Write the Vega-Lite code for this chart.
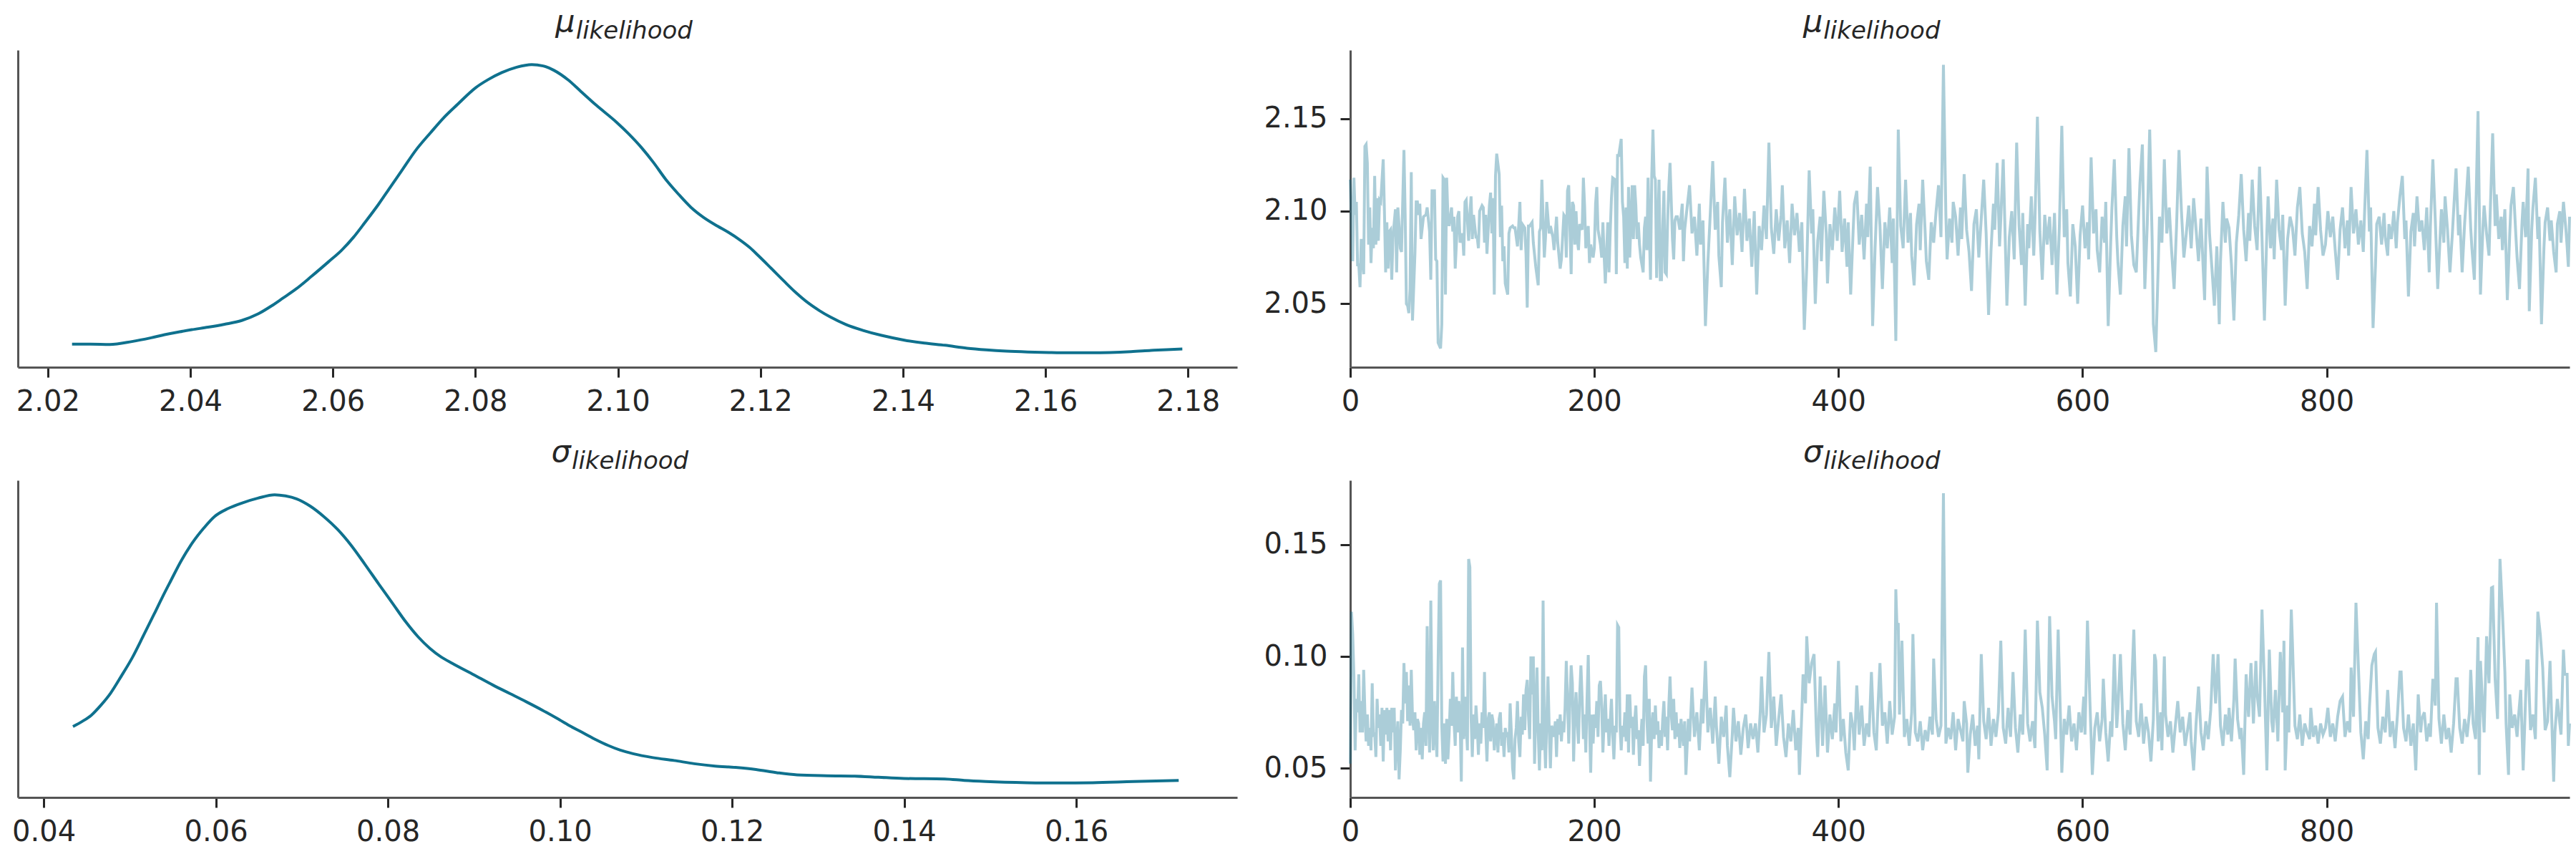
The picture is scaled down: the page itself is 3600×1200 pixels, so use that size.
{
"$schema": "https://vega.github.io/schema/vega-lite/v6.json",
"background": "white",
"padding": {"left": 16, "top": 10, "right": 5, "bottom": 5},
"columns": 2,
"spacing": 158,
"bounds": "flush",
"config": {
  "view": {"stroke": null},
  "axis": {"domainColor": "#555555", "domainWidth": 3, "tickColor": "#262626", "tickWidth": 3, "tickSize": 14, "labelFont": "DejaVu Sans", "labelFontSize": 40, "labelColor": "#262626", "grid": false, "title": null, "labelFlush": false, "labelOverlap": false},
  "axisX": {"labelPadding": 14},
  "axisY": {"labelPadding": 18},
  "title": {"anchor": "start", "dx": 754, "font": "DejaVu Sans", "fontSize": 43, "fontStyle": "italic", "fontWeight": "normal", "color": "#262626", "subtitleFont": "DejaVu Sans", "subtitleFontSize": 34, "subtitleFontStyle": "italic", "subtitleColor": "#262626", "subtitlePadding": -26, "offset": 9}
},
"datasets": {
"mu_kde": [{"v":2.0234,"d":0.92},{"v":2.026,"d":0.92},{"v":2.0287,"d":0.9},{"v":2.0318,"d":1.11},{"v":2.0345,"d":1.38},{"v":2.0364,"d":1.6},{"v":2.0385,"d":1.81},{"v":2.0402,"d":1.96},{"v":2.0425,"d":2.14},{"v":2.0448,"d":2.35},{"v":2.0472,"d":2.62},{"v":2.0495,"d":3.09},{"v":2.0514,"d":3.67},{"v":2.053,"d":4.23},{"v":2.0548,"d":4.87},{"v":2.057,"d":5.79},{"v":2.0594,"d":6.84},{"v":2.0612,"d":7.65},{"v":2.0629,"d":8.6},{"v":2.0645,"d":9.66},{"v":2.0664,"d":10.96},{"v":2.068,"d":12.15},{"v":2.0698,"d":13.48},{"v":2.0716,"d":14.82},{"v":2.0737,"d":16.1},{"v":2.0755,"d":17.15},{"v":2.0775,"d":18.14},{"v":2.08,"d":19.32},{"v":2.0818,"d":19.92},{"v":2.0837,"d":20.42},{"v":2.0858,"d":20.81},{"v":2.0879,"d":21.0},{"v":2.0895,"d":20.9},{"v":2.091,"d":20.59},{"v":2.093,"d":19.9},{"v":2.0948,"d":19.07},{"v":2.097,"d":18.06},{"v":2.0998,"d":16.86},{"v":2.1015,"d":16.03},{"v":2.1033,"d":15.04},{"v":2.105,"d":13.96},{"v":2.1067,"d":12.76},{"v":2.1085,"d":11.69},{"v":2.1102,"d":10.77},{"v":2.112,"d":10.03},{"v":2.114,"d":9.39},{"v":2.1155,"d":8.95},{"v":2.1171,"d":8.41},{"v":2.1185,"d":7.86},{"v":2.1198,"d":7.23},{"v":2.1215,"d":6.37},{"v":2.1233,"d":5.45},{"v":2.125,"d":4.61},{"v":2.1267,"d":3.88},{"v":2.1283,"d":3.32},{"v":2.1298,"d":2.87},{"v":2.132,"d":2.33},{"v":2.1344,"d":1.91},{"v":2.137,"d":1.55},{"v":2.1402,"d":1.21},{"v":2.143,"d":1.0},{"v":2.1459,"d":0.84},{"v":2.149,"d":0.63},{"v":2.1517,"d":0.51},{"v":2.1545,"d":0.42},{"v":2.1575,"d":0.36},{"v":2.1605,"d":0.32},{"v":2.1632,"d":0.3},{"v":2.166,"d":0.3},{"v":2.169,"d":0.32},{"v":2.172,"d":0.38},{"v":2.1748,"d":0.47},{"v":2.177,"d":0.53},{"v":2.1792,"d":0.57}],
"sigma_kde": [{"v":0.0434,"d":5.79},{"v":0.0445,"d":6.28},{"v":0.04553,"d":6.85},{"v":0.04665,"d":7.79},{"v":0.04776,"d":8.9},{"v":0.049,"d":10.49},{"v":0.0503,"d":12.25},{"v":0.0516,"d":14.32},{"v":0.05285,"d":16.35},{"v":0.0538,"d":17.92},{"v":0.05476,"d":19.43},{"v":0.056,"d":21.34},{"v":0.0573,"d":23.02},{"v":0.0586,"d":24.37},{"v":0.05984,"d":25.45},{"v":0.0614,"d":26.2},{"v":0.06302,"d":26.72},{"v":0.0649,"d":27.18},{"v":0.06684,"d":27.5},{"v":0.0681,"d":27.39},{"v":0.06938,"d":27.12},{"v":0.071,"d":26.42},{"v":0.07256,"d":25.45},{"v":0.0742,"d":24.21},{"v":0.07574,"d":22.75},{"v":0.0773,"d":21.02},{"v":0.07892,"d":19.16},{"v":0.0805,"d":17.38},{"v":0.0821,"d":15.57},{"v":0.0835,"d":14.2},{"v":0.0849,"d":13.1},{"v":0.0862,"d":12.3},{"v":0.08749,"d":11.71},{"v":0.09,"d":10.63},{"v":0.09226,"d":9.65},{"v":0.0942,"d":8.87},{"v":0.09608,"d":8.11},{"v":0.098,"d":7.3},{"v":0.0999,"d":6.44},{"v":0.1013,"d":5.79},{"v":0.10276,"d":5.17},{"v":0.1042,"d":4.55},{"v":0.10562,"d":4.01},{"v":0.107,"d":3.58},{"v":0.10848,"d":3.25},{"v":0.1108,"d":2.88},{"v":0.11325,"d":2.61},{"v":0.1156,"d":2.31},{"v":0.11802,"d":2.09},{"v":0.1204,"d":1.96},{"v":0.12278,"d":1.77},{"v":0.1252,"d":1.47},{"v":0.12755,"d":1.26},{"v":0.131,"d":1.18},{"v":0.13423,"d":1.15},{"v":0.137,"d":1.04},{"v":0.13995,"d":0.93},{"v":0.14472,"d":0.88},{"v":0.147,"d":0.74},{"v":0.14949,"d":0.64},{"v":0.15426,"d":0.53},{"v":0.158,"d":0.5},{"v":0.16189,"d":0.53},{"v":0.16666,"d":0.64},{"v":0.1719,"d":0.74}],
"mu_trace": [{"d":0,"v":2.117},{"d":2,"v":2.073},{"d":3,"v":2.118},{"d":4,"v":2.098},{"d":5,"v":2.105},{"d":6,"v":2.071},{"d":7,"v":2.071},{"d":8,"v":2.059},{"d":9,"v":2.085},{"d":11,"v":2.066},{"d":12,"v":2.135},{"d":13,"v":2.136},{"d":14,"v":2.126},{"d":15,"v":2.082},{"d":16,"v":2.102},{"d":17,"v":2.072},{"d":18,"v":2.091},{"d":19,"v":2.08},{"d":20,"v":2.119},{"d":21,"v":2.082},{"d":22,"v":2.107},{"d":23,"v":2.084},{"d":24,"v":2.106},{"d":25,"v":2.105},{"d":27,"v":2.128},{"d":28,"v":2.1},{"d":29,"v":2.067},{"d":30,"v":2.094},{"d":31,"v":2.069},{"d":32,"v":2.089},{"d":33,"v":2.09},{"d":34,"v":2.063},{"d":35,"v":2.086},{"d":37,"v":2.101},{"d":38,"v":2.067},{"d":39,"v":2.102},{"d":40,"v":2.092},{"d":41,"v":2.08},{"d":42,"v":2.078},{"d":44,"v":2.133},{"d":45,"v":2.098},{"d":46,"v":2.05},{"d":47,"v":2.049},{"d":48,"v":2.045},{"d":49,"v":2.058},{"d":50,"v":2.121},{"d":51,"v":2.041},{"d":53,"v":2.077},{"d":54,"v":2.105},{"d":55,"v":2.105},{"d":56,"v":2.098},{"d":57,"v":2.104},{"d":58,"v":2.085},{"d":60,"v":2.097},{"d":62,"v":2.098},{"d":63,"v":2.102},{"d":65,"v":2.089},{"d":66,"v":2.063},{"d":67,"v":2.111},{"d":69,"v":2.111},{"d":70,"v":2.074},{"d":71,"v":2.073},{"d":72,"v":2.029},{"d":74,"v":2.026},{"d":75,"v":2.039},{"d":76,"v":2.118},{"d":77,"v":2.117},{"d":78,"v":2.055},{"d":79,"v":2.118},{"d":80,"v":2.097},{"d":81,"v":2.092},{"d":83,"v":2.102},{"d":84,"v":2.089},{"d":85,"v":2.097},{"d":86,"v":2.069},{"d":88,"v":2.097},{"d":89,"v":2.1},{"d":90,"v":2.083},{"d":92,"v":2.088},{"d":93,"v":2.076},{"d":94,"v":2.105},{"d":95,"v":2.106},{"d":97,"v":2.084},{"d":98,"v":2.098},{"d":99,"v":2.108},{"d":100,"v":2.085},{"d":101,"v":2.098},{"d":103,"v":2.086},{"d":104,"v":2.086},{"d":105,"v":2.08},{"d":106,"v":2.1},{"d":108,"v":2.103},{"d":109,"v":2.102},{"d":110,"v":2.083},{"d":111,"v":2.098},{"d":112,"v":2.077},{"d":114,"v":2.103},{"d":115,"v":2.11},{"d":116,"v":2.088},{"d":117,"v":2.107},{"d":118,"v":2.055},{"d":119,"v":2.119},{"d":120,"v":2.131},{"d":122,"v":2.12},{"d":123,"v":2.086},{"d":124,"v":2.103},{"d":125,"v":2.073},{"d":126,"v":2.081},{"d":127,"v":2.061},{"d":129,"v":2.055},{"d":130,"v":2.088},{"d":131,"v":2.091},{"d":133,"v":2.092},{"d":134,"v":2.091},{"d":135,"v":2.091},{"d":137,"v":2.081},{"d":138,"v":2.092},{"d":139,"v":2.105},{"d":140,"v":2.079},{"d":141,"v":2.093},{"d":143,"v":2.091},{"d":144,"v":2.077},{"d":145,"v":2.048},{"d":146,"v":2.092},{"d":147,"v":2.092},{"d":149,"v":2.094},{"d":150,"v":2.083},{"d":152,"v":2.07},{"d":154,"v":2.06},{"d":155,"v":2.089},{"d":156,"v":2.091},{"d":157,"v":2.117},{"d":159,"v":2.075},{"d":160,"v":2.086},{"d":161,"v":2.105},{"d":163,"v":2.088},{"d":164,"v":2.092},{"d":166,"v":2.086},{"d":167,"v":2.079},{"d":169,"v":2.097},{"d":170,"v":2.083},{"d":172,"v":2.069},{"d":173,"v":2.074},{"d":175,"v":2.098},{"d":176,"v":2.097},{"d":177,"v":2.075},{"d":178,"v":2.111},{"d":179,"v":2.114},{"d":181,"v":2.066},{"d":182,"v":2.105},{"d":183,"v":2.103},{"d":184,"v":2.082},{"d":185,"v":2.1},{"d":186,"v":2.085},{"d":187,"v":2.079},{"d":188,"v":2.093},{"d":190,"v":2.09},{"d":191,"v":2.118},{"d":192,"v":2.103},{"d":193,"v":2.08},{"d":195,"v":2.092},{"d":196,"v":2.072},{"d":197,"v":2.082},{"d":199,"v":2.075},{"d":200,"v":2.08},{"d":201,"v":2.104},{"d":202,"v":2.113},{"d":203,"v":2.09},{"d":205,"v":2.082},{"d":206,"v":2.075},{"d":207,"v":2.094},{"d":208,"v":2.076},{"d":209,"v":2.061},{"d":211,"v":2.094},{"d":212,"v":2.067},{"d":213,"v":2.089},{"d":214,"v":2.107},{"d":215,"v":2.118},{"d":217,"v":2.117},{"d":218,"v":2.066},{"d":219,"v":2.13},{"d":220,"v":2.13},{"d":222,"v":2.139},{"d":223,"v":2.105},{"d":224,"v":2.097},{"d":225,"v":2.072},{"d":226,"v":2.102},{"d":227,"v":2.069},{"d":228,"v":2.113},{"d":229,"v":2.075},{"d":231,"v":2.114},{"d":232,"v":2.085},{"d":233,"v":2.114},{"d":234,"v":2.103},{"d":235,"v":2.085},{"d":236,"v":2.094},{"d":237,"v":2.082},{"d":238,"v":2.075},{"d":240,"v":2.067},{"d":241,"v":2.091},{"d":242,"v":2.097},{"d":243,"v":2.079},{"d":244,"v":2.118},{"d":246,"v":2.063},{"d":247,"v":2.118},{"d":248,"v":2.144},{"d":249,"v":2.119},{"d":250,"v":2.117},{"d":251,"v":2.064},{"d":253,"v":2.117},{"d":254,"v":2.063},{"d":255,"v":2.063},{"d":256,"v":2.092},{"d":257,"v":2.111},{"d":258,"v":2.067},{"d":259,"v":2.066},{"d":260,"v":2.094},{"d":261,"v":2.113},{"d":262,"v":2.126},{"d":264,"v":2.085},{"d":265,"v":2.074},{"d":266,"v":2.095},{"d":267,"v":2.097},{"d":268,"v":2.097},{"d":269,"v":2.094},{"d":270,"v":2.09},{"d":272,"v":2.104},{"d":273,"v":2.073},{"d":274,"v":2.09},{"d":276,"v":2.102},{"d":278,"v":2.114},{"d":280,"v":2.088},{"d":282,"v":2.097},{"d":284,"v":2.076},{"d":286,"v":2.104},{"d":287,"v":2.082},{"d":289,"v":2.095},{"d":291,"v":2.038},{"d":293,"v":2.072},{"d":295,"v":2.099},{"d":297,"v":2.127},{"d":299,"v":2.09},{"d":301,"v":2.105},{"d":302,"v":2.076},{"d":304,"v":2.059},{"d":305,"v":2.094},{"d":307,"v":2.118},{"d":309,"v":2.083},{"d":311,"v":2.101},{"d":313,"v":2.071},{"d":315,"v":2.108},{"d":317,"v":2.087},{"d":319,"v":2.099},{"d":321,"v":2.078},{"d":323,"v":2.112},{"d":325,"v":2.084},{"d":327,"v":2.096},{"d":329,"v":2.07},{"d":331,"v":2.1},{"d":333,"v":2.055},{"d":335,"v":2.092},{"d":337,"v":2.079},{"d":339,"v":2.103},{"d":341,"v":2.085},{"d":343,"v":2.137},{"d":345,"v":2.091},{"d":347,"v":2.077},{"d":349,"v":2.101},{"d":351,"v":2.084},{"d":353,"v":2.098},{"d":354,"v":2.114},{"d":356,"v":2.08},{"d":358,"v":2.095},{"d":360,"v":2.072},{"d":362,"v":2.104},{"d":364,"v":2.087},{"d":366,"v":2.099},{"d":368,"v":2.078},{"d":370,"v":2.094},{"d":372,"v":2.036},{"d":374,"v":2.07},{"d":376,"v":2.122},{"d":378,"v":2.088},{"d":379,"v":2.101},{"d":381,"v":2.05},{"d":383,"v":2.084},{"d":385,"v":2.097},{"d":386,"v":2.073},{"d":388,"v":2.111},{"d":390,"v":2.088},{"d":391,"v":2.061},{"d":393,"v":2.093},{"d":395,"v":2.079},{"d":397,"v":2.102},{"d":399,"v":2.084},{"d":401,"v":2.111},{"d":403,"v":2.078},{"d":405,"v":2.096},{"d":407,"v":2.07},{"d":408,"v":2.094},{"d":410,"v":2.055},{"d":412,"v":2.089},{"d":413,"v":2.104},{"d":415,"v":2.111},{"d":417,"v":2.082},{"d":419,"v":2.098},{"d":421,"v":2.074},{"d":423,"v":2.104},{"d":424,"v":2.086},{"d":426,"v":2.124},{"d":428,"v":2.038},{"d":430,"v":2.08},{"d":432,"v":2.113},{"d":434,"v":2.092},{"d":436,"v":2.058},{"d":438,"v":2.094},{"d":440,"v":2.08},{"d":442,"v":2.102},{"d":444,"v":2.072},{"d":445,"v":2.096},{"d":447,"v":2.03},{"d":449,"v":2.144},{"d":451,"v":2.092},{"d":453,"v":2.08},{"d":455,"v":2.117},{"d":457,"v":2.083},{"d":459,"v":2.099},{"d":460,"v":2.076},{"d":462,"v":2.06},{"d":464,"v":2.093},{"d":466,"v":2.104},{"d":467,"v":2.079},{"d":469,"v":2.117},{"d":471,"v":2.089},{"d":472,"v":2.073},{"d":474,"v":2.063},{"d":476,"v":2.094},{"d":478,"v":2.083},{"d":480,"v":2.1},{"d":482,"v":2.114},{"d":484,"v":2.086},{"d":486,"v":2.179},{"d":488,"v":2.098},{"d":489,"v":2.074},{"d":491,"v":2.096},{"d":493,"v":2.083},{"d":494,"v":2.105},{"d":496,"v":2.097},{"d":498,"v":2.076},{"d":500,"v":2.102},{"d":501,"v":2.085},{"d":503,"v":2.12},{"d":505,"v":2.09},{"d":507,"v":2.078},{"d":509,"v":2.057},{"d":511,"v":2.093},{"d":513,"v":2.101},{"d":515,"v":2.075},{"d":517,"v":2.096},{"d":519,"v":2.117},{"d":521,"v":2.088},{"d":523,"v":2.044},{"d":525,"v":2.079},{"d":527,"v":2.104},{"d":528,"v":2.09},{"d":530,"v":2.126},{"d":532,"v":2.081},{"d":533,"v":2.096},{"d":535,"v":2.128},{"d":538,"v":2.049},{"d":540,"v":2.086},{"d":542,"v":2.1},{"d":544,"v":2.074},{"d":546,"v":2.137},{"d":548,"v":2.092},{"d":550,"v":2.071},{"d":551,"v":2.099},{"d":553,"v":2.049},{"d":555,"v":2.093},{"d":556,"v":2.08},{"d":558,"v":2.108},{"d":560,"v":2.076},{"d":561,"v":2.095},{"d":563,"v":2.151},{"d":565,"v":2.089},{"d":567,"v":2.063},{"d":569,"v":2.098},{"d":571,"v":2.082},{"d":573,"v":2.097},{"d":575,"v":2.071},{"d":577,"v":2.099},{"d":579,"v":2.055},{"d":581,"v":2.092},{"d":583,"v":2.146},{"d":585,"v":2.086},{"d":587,"v":2.101},{"d":588,"v":2.072},{"d":590,"v":2.054},{"d":592,"v":2.093},{"d":594,"v":2.081},{"d":596,"v":2.05},{"d":598,"v":2.087},{"d":600,"v":2.103},{"d":602,"v":2.08},{"d":604,"v":2.094},{"d":605,"v":2.074},{"d":607,"v":2.129},{"d":609,"v":2.088},{"d":611,"v":2.101},{"d":612,"v":2.079},{"d":614,"v":2.067},{"d":616,"v":2.097},{"d":618,"v":2.083},{"d":619,"v":2.105},{"d":621,"v":2.038},{"d":623,"v":2.082},{"d":624,"v":2.101},{"d":626,"v":2.128},{"d":628,"v":2.086},{"d":629,"v":2.072},{"d":631,"v":2.055},{"d":633,"v":2.092},{"d":635,"v":2.108},{"d":636,"v":2.081},{"d":638,"v":2.134},{"d":640,"v":2.087},{"d":642,"v":2.071},{"d":644,"v":2.067},{"d":646,"v":2.099},{"d":647,"v":2.115},{"d":649,"v":2.136},{"d":651,"v":2.058},{"d":653,"v":2.093},{"d":655,"v":2.144},{"d":657,"v":2.085},{"d":658,"v":2.039},{"d":660,"v":2.024},{"d":662,"v":2.071},{"d":663,"v":2.097},{"d":665,"v":2.083},{"d":667,"v":2.128},{"d":669,"v":2.088},{"d":671,"v":2.102},{"d":673,"v":2.078},{"d":675,"v":2.058},{"d":677,"v":2.092},{"d":679,"v":2.133},{"d":681,"v":2.1},{"d":683,"v":2.075},{"d":685,"v":2.088},{"d":687,"v":2.103},{"d":689,"v":2.08},{"d":691,"v":2.107},{"d":693,"v":2.09},{"d":695,"v":2.073},{"d":697,"v":2.096},{"d":698,"v":2.081},{"d":700,"v":2.052},{"d":702,"v":2.124},{"d":704,"v":2.088},{"d":706,"v":2.069},{"d":708,"v":2.049},{"d":710,"v":2.081},{"d":712,"v":2.039},{"d":713,"v":2.073},{"d":715,"v":2.105},{"d":717,"v":2.083},{"d":718,"v":2.096},{"d":720,"v":2.091},{"d":722,"v":2.071},{"d":724,"v":2.041},{"d":726,"v":2.083},{"d":728,"v":2.098},{"d":730,"v":2.12},{"d":732,"v":2.09},{"d":734,"v":2.073},{"d":736,"v":2.099},{"d":737,"v":2.084},{"d":739,"v":2.117},{"d":741,"v":2.092},{"d":743,"v":2.079},{"d":745,"v":2.124},{"d":747,"v":2.086},{"d":749,"v":2.041},{"d":751,"v":2.089},{"d":752,"v":2.108},{"d":754,"v":2.08},{"d":756,"v":2.096},{"d":757,"v":2.074},{"d":759,"v":2.117},{"d":761,"v":2.09},{"d":763,"v":2.079},{"d":764,"v":2.098},{"d":766,"v":2.049},{"d":768,"v":2.085},{"d":770,"v":2.097},{"d":772,"v":2.091},{"d":774,"v":2.076},{"d":776,"v":2.102},{"d":778,"v":2.113},{"d":780,"v":2.088},{"d":782,"v":2.078},{"d":784,"v":2.058},{"d":786,"v":2.092},{"d":788,"v":2.081},{"d":790,"v":2.104},{"d":791,"v":2.087},{"d":793,"v":2.113},{"d":795,"v":2.09},{"d":797,"v":2.076},{"d":799,"v":2.082},{"d":801,"v":2.1},{"d":803,"v":2.086},{"d":805,"v":2.097},{"d":807,"v":2.079},{"d":809,"v":2.063},{"d":811,"v":2.09},{"d":813,"v":2.102},{"d":815,"v":2.08},{"d":817,"v":2.095},{"d":818,"v":2.076},{"d":820,"v":2.113},{"d":822,"v":2.088},{"d":824,"v":2.101},{"d":826,"v":2.082},{"d":828,"v":2.095},{"d":830,"v":2.078},{"d":831,"v":2.098},{"d":833,"v":2.133},{"d":835,"v":2.089},{"d":836,"v":2.102},{"d":838,"v":2.037},{"d":840,"v":2.071},{"d":841,"v":2.093},{"d":843,"v":2.097},{"d":845,"v":2.082},{"d":847,"v":2.099},{"d":848,"v":2.086},{"d":850,"v":2.076},{"d":851,"v":2.093},{"d":853,"v":2.085},{"d":855,"v":2.1},{"d":857,"v":2.08},{"d":858,"v":2.094},{"d":860,"v":2.108},{"d":862,"v":2.119},{"d":864,"v":2.085},{"d":865,"v":2.095},{"d":867,"v":2.054},{"d":869,"v":2.089},{"d":871,"v":2.099},{"d":872,"v":2.081},{"d":874,"v":2.108},{"d":876,"v":2.089},{"d":878,"v":2.095},{"d":880,"v":2.079},{"d":882,"v":2.102},{"d":884,"v":2.067},{"d":885,"v":2.092},{"d":887,"v":2.128},{"d":889,"v":2.095},{"d":891,"v":2.058},{"d":893,"v":2.087},{"d":894,"v":2.101},{"d":896,"v":2.083},{"d":897,"v":2.108},{"d":899,"v":2.09},{"d":901,"v":2.067},{"d":903,"v":2.088},{"d":904,"v":2.1},{"d":906,"v":2.123},{"d":908,"v":2.087},{"d":909,"v":2.098},{"d":911,"v":2.067},{"d":913,"v":2.093},{"d":914,"v":2.103},{"d":916,"v":2.124},{"d":918,"v":2.091},{"d":919,"v":2.08},{"d":921,"v":2.063},{"d":922,"v":2.093},{"d":924,"v":2.154},{"d":926,"v":2.055},{"d":928,"v":2.091},{"d":929,"v":2.103},{"d":931,"v":2.088},{"d":933,"v":2.076},{"d":934,"v":2.099},{"d":936,"v":2.142},{"d":938,"v":2.092},{"d":939,"v":2.109},{"d":941,"v":2.085},{"d":943,"v":2.097},{"d":944,"v":2.079},{"d":946,"v":2.101},{"d":948,"v":2.052},{"d":950,"v":2.088},{"d":951,"v":2.103},{"d":953,"v":2.113},{"d":955,"v":2.087},{"d":956,"v":2.075},{"d":958,"v":2.058},{"d":960,"v":2.093},{"d":961,"v":2.105},{"d":963,"v":2.086},{"d":965,"v":2.123},{"d":966,"v":2.046},{"d":968,"v":2.09},{"d":969,"v":2.102},{"d":971,"v":2.118},{"d":973,"v":2.085},{"d":974,"v":2.097},{"d":976,"v":2.039},{"d":978,"v":2.08},{"d":979,"v":2.094},{"d":981,"v":2.102},{"d":983,"v":2.084},{"d":984,"v":2.095},{"d":986,"v":2.078},{"d":988,"v":2.067},{"d":989,"v":2.093},{"d":991,"v":2.1},{"d":992,"v":2.083},{"d":994,"v":2.105},{"d":996,"v":2.09},{"d":997,"v":2.081},{"d":998,"v":2.07},{"d":999,"v":2.097}],
"sigma_trace": [{"d":0,"v":0.052},{"d":1,"v":0.12},{"d":2,"v":0.11},{"d":3,"v":0.091},{"d":4,"v":0.058},{"d":5,"v":0.081},{"d":6,"v":0.075},{"d":7,"v":0.092},{"d":8,"v":0.066},{"d":9,"v":0.08},{"d":10,"v":0.066},{"d":11,"v":0.094},{"d":12,"v":0.075},{"d":13,"v":0.062},{"d":14,"v":0.074},{"d":15,"v":0.06},{"d":16,"v":0.068},{"d":17,"v":0.058},{"d":18,"v":0.088},{"d":19,"v":0.064},{"d":20,"v":0.066},{"d":21,"v":0.055},{"d":22,"v":0.081},{"d":23,"v":0.068},{"d":24,"v":0.074},{"d":25,"v":0.06},{"d":26,"v":0.077},{"d":27,"v":0.053},{"d":28,"v":0.076},{"d":29,"v":0.065},{"d":30,"v":0.077},{"d":31,"v":0.062},{"d":32,"v":0.076},{"d":33,"v":0.058},{"d":34,"v":0.077},{"d":35,"v":0.066},{"d":36,"v":0.077},{"d":37,"v":0.049},{"d":38,"v":0.062},{"d":39,"v":0.071},{"d":40,"v":0.045},{"d":41,"v":0.058},{"d":42,"v":0.076},{"d":43,"v":0.07},{"d":44,"v":0.097},{"d":45,"v":0.079},{"d":46,"v":0.093},{"d":47,"v":0.071},{"d":48,"v":0.087},{"d":49,"v":0.069},{"d":50,"v":0.094},{"d":51,"v":0.073},{"d":52,"v":0.067},{"d":53,"v":0.075},{"d":54,"v":0.058},{"d":55,"v":0.072},{"d":56,"v":0.07},{"d":57,"v":0.056},{"d":58,"v":0.068},{"d":59,"v":0.054},{"d":60,"v":0.07},{"d":61,"v":0.075},{"d":62,"v":0.06},{"d":63,"v":0.1135},{"d":64,"v":0.074},{"d":65,"v":0.057},{"d":66,"v":0.125},{"d":67,"v":0.072},{"d":68,"v":0.058},{"d":69,"v":0.08},{"d":70,"v":0.066},{"d":71,"v":0.055},{"d":72,"v":0.098},{"d":73,"v":0.1325},{"d":74,"v":0.134},{"d":75,"v":0.069},{"d":76,"v":0.053},{"d":77,"v":0.07},{"d":78,"v":0.052},{"d":79,"v":0.072},{"d":80,"v":0.054},{"d":81,"v":0.065},{"d":82,"v":0.081},{"d":83,"v":0.069},{"d":84,"v":0.093},{"d":85,"v":0.071},{"d":86,"v":0.06},{"d":87,"v":0.082},{"d":88,"v":0.066},{"d":89,"v":0.08},{"d":90,"v":0.072},{"d":91,"v":0.044},{"d":92,"v":0.104},{"d":93,"v":0.063},{"d":94,"v":0.082},{"d":95,"v":0.07},{"d":96,"v":0.058},{"d":97,"v":0.1436},{"d":98,"v":0.14},{"d":99,"v":0.073},{"d":100,"v":0.055},{"d":101,"v":0.074},{"d":102,"v":0.063},{"d":103,"v":0.078},{"d":104,"v":0.069},{"d":105,"v":0.056},{"d":106,"v":0.07},{"d":107,"v":0.061},{"d":108,"v":0.075},{"d":109,"v":0.068},{"d":110,"v":0.093},{"d":111,"v":0.067},{"d":112,"v":0.053},{"d":113,"v":0.072},{"d":114,"v":0.075},{"d":115,"v":0.062},{"d":116,"v":0.074},{"d":117,"v":0.071},{"d":118,"v":0.058},{"d":119,"v":0.065},{"d":120,"v":0.07},{"d":121,"v":0.057},{"d":122,"v":0.072},{"d":123,"v":0.075},{"d":124,"v":0.06},{"d":125,"v":0.066},{"d":126,"v":0.055},{"d":127,"v":0.068},{"d":128,"v":0.064},{"d":129,"v":0.066},{"d":130,"v":0.057},{"d":131,"v":0.079},{"d":132,"v":0.066},{"d":133,"v":0.05},{"d":134,"v":0.045},{"d":135,"v":0.063},{"d":136,"v":0.068},{"d":137,"v":0.08},{"d":138,"v":0.062},{"d":139,"v":0.055},{"d":140,"v":0.073},{"d":141,"v":0.065},{"d":142,"v":0.083},{"d":143,"v":0.067},{"d":144,"v":0.085},{"d":145,"v":0.0895},{"d":146,"v":0.074},{"d":147,"v":0.063},{"d":148,"v":0.1},{"d":149,"v":0.083},{"d":150,"v":0.1},{"d":151,"v":0.052},{"d":152,"v":0.075},{"d":153,"v":0.095},{"d":154,"v":0.066},{"d":155,"v":0.049},{"d":156,"v":0.07},{"d":157,"v":0.058},{"d":158,"v":0.125},{"d":159,"v":0.066},{"d":160,"v":0.05},{"d":161,"v":0.072},{"d":162,"v":0.091},{"d":163,"v":0.068},{"d":164,"v":0.05},{"d":165,"v":0.069},{"d":166,"v":0.067},{"d":167,"v":0.064},{"d":168,"v":0.071},{"d":169,"v":0.055},{"d":170,"v":0.072},{"d":171,"v":0.065},{"d":172,"v":0.074},{"d":173,"v":0.062},{"d":174,"v":0.071},{"d":175,"v":0.066},{"d":176,"v":0.077},{"d":177,"v":0.098},{"d":178,"v":0.081},{"d":179,"v":0.061},{"d":180,"v":0.08},{"d":181,"v":0.096},{"d":182,"v":0.088},{"d":183,"v":0.053},{"d":184,"v":0.074},{"d":185,"v":0.084},{"d":186,"v":0.07},{"d":187,"v":0.061},{"d":188,"v":0.083},{"d":189,"v":0.096},{"d":190,"v":0.081},{"d":191,"v":0.063},{"d":192,"v":0.074},{"d":193,"v":0.057},{"d":194,"v":0.081},{"d":195,"v":0.1006},{"d":196,"v":0.07},{"d":197,"v":0.048},{"d":198,"v":0.074},{"d":199,"v":0.061},{"d":200,"v":0.074},{"d":201,"v":0.068},{"d":202,"v":0.08},{"d":203,"v":0.064},{"d":204,"v":0.087},{"d":205,"v":0.089},{"d":206,"v":0.078},{"d":207,"v":0.057},{"d":208,"v":0.071},{"d":209,"v":0.083},{"d":210,"v":0.066},{"d":211,"v":0.072},{"d":212,"v":0.06},{"d":213,"v":0.071},{"d":214,"v":0.081},{"d":215,"v":0.065},{"d":216,"v":0.054},{"d":217,"v":0.069},{"d":218,"v":0.066},{"d":219,"v":0.114},{"d":220,"v":0.113},{"d":221,"v":0.069},{"d":222,"v":0.058},{"d":223,"v":0.069},{"d":224,"v":0.064},{"d":225,"v":0.075},{"d":226,"v":0.062},{"d":227,"v":0.083},{"d":228,"v":0.057},{"d":229,"v":0.083},{"d":230,"v":0.068},{"d":231,"v":0.073},{"d":232,"v":0.056},{"d":233,"v":0.071},{"d":234,"v":0.078},{"d":235,"v":0.063},{"d":236,"v":0.067},{"d":237,"v":0.051},{"d":238,"v":0.063},{"d":239,"v":0.072},{"d":240,"v":0.06},{"d":241,"v":0.091},{"d":242,"v":0.096},{"d":243,"v":0.072},{"d":244,"v":0.061},{"d":245,"v":0.081},{"d":246,"v":0.044},{"d":247,"v":0.068},{"d":248,"v":0.075},{"d":249,"v":0.063},{"d":250,"v":0.078},{"d":251,"v":0.065},{"d":252,"v":0.071},{"d":253,"v":0.059},{"d":254,"v":0.067},{"d":255,"v":0.06},{"d":256,"v":0.072},{"d":257,"v":0.08},{"d":258,"v":0.064},{"d":259,"v":0.073},{"d":260,"v":0.058},{"d":261,"v":0.078},{"d":262,"v":0.091},{"d":263,"v":0.074},{"d":264,"v":0.067},{"d":265,"v":0.081},{"d":266,"v":0.063},{"d":267,"v":0.075},{"d":268,"v":0.064},{"d":269,"v":0.07},{"d":270,"v":0.059},{"d":271,"v":0.072},{"d":272,"v":0.066},{"d":273,"v":0.06},{"d":274,"v":0.071},{"d":275,"v":0.047},{"d":277,"v":0.072},{"d":278,"v":0.062},{"d":280,"v":0.086},{"d":282,"v":0.064},{"d":284,"v":0.075},{"d":286,"v":0.058},{"d":288,"v":0.081},{"d":289,"v":0.07},{"d":291,"v":0.098},{"d":293,"v":0.066},{"d":295,"v":0.077},{"d":297,"v":0.061},{"d":299,"v":0.082},{"d":300,"v":0.069},{"d":302,"v":0.052},{"d":304,"v":0.073},{"d":306,"v":0.064},{"d":308,"v":0.078},{"d":309,"v":0.06},{"d":311,"v":0.046},{"d":313,"v":0.065},{"d":314,"v":0.077},{"d":316,"v":0.062},{"d":318,"v":0.071},{"d":320,"v":0.056},{"d":322,"v":0.068},{"d":324,"v":0.074},{"d":326,"v":0.059},{"d":328,"v":0.07},{"d":330,"v":0.063},{"d":332,"v":0.07},{"d":334,"v":0.057},{"d":336,"v":0.076},{"d":337,"v":0.091},{"d":339,"v":0.066},{"d":341,"v":0.074},{"d":343,"v":0.102},{"d":345,"v":0.068},{"d":347,"v":0.082},{"d":349,"v":0.06},{"d":351,"v":0.072},{"d":353,"v":0.083},{"d":355,"v":0.064},{"d":357,"v":0.055},{"d":359,"v":0.07},{"d":361,"v":0.062},{"d":363,"v":0.076},{"d":365,"v":0.058},{"d":367,"v":0.068},{"d":368,"v":0.047},{"d":370,"v":0.075},{"d":371,"v":0.092},{"d":373,"v":0.079},{"d":374,"v":0.109},{"d":376,"v":0.088},{"d":378,"v":0.097},{"d":380,"v":0.101},{"d":382,"v":0.065},{"d":383,"v":0.055},{"d":385,"v":0.091},{"d":387,"v":0.06},{"d":389,"v":0.087},{"d":391,"v":0.057},{"d":393,"v":0.074},{"d":395,"v":0.063},{"d":397,"v":0.079},{"d":398,"v":0.066},{"d":400,"v":0.098},{"d":402,"v":0.062},{"d":404,"v":0.072},{"d":406,"v":0.057},{"d":408,"v":0.049},{"d":410,"v":0.075},{"d":412,"v":0.068},{"d":413,"v":0.058},{"d":415,"v":0.087},{"d":417,"v":0.065},{"d":419,"v":0.078},{"d":421,"v":0.06},{"d":423,"v":0.07},{"d":425,"v":0.064},{"d":427,"v":0.093},{"d":429,"v":0.066},{"d":431,"v":0.058},{"d":432,"v":0.073},{"d":434,"v":0.097},{"d":436,"v":0.069},{"d":438,"v":0.075},{"d":440,"v":0.061},{"d":442,"v":0.08},{"d":444,"v":0.065},{"d":446,"v":0.073},{"d":447,"v":0.13},{"d":448,"v":0.112},{"d":449,"v":0.115},{"d":450,"v":0.074},{"d":452,"v":0.107},{"d":454,"v":0.064},{"d":456,"v":0.072},{"d":458,"v":0.06},{"d":460,"v":0.075},{"d":461,"v":0.11},{"d":463,"v":0.066},{"d":465,"v":0.062},{"d":467,"v":0.071},{"d":469,"v":0.058},{"d":471,"v":0.067},{"d":473,"v":0.062},{"d":475,"v":0.073},{"d":477,"v":0.065},{"d":478,"v":0.099},{"d":480,"v":0.072},{"d":482,"v":0.064},{"d":484,"v":0.069},{"d":486,"v":0.173},{"d":488,"v":0.061},{"d":490,"v":0.068},{"d":492,"v":0.063},{"d":494,"v":0.075},{"d":496,"v":0.058},{"d":498,"v":0.072},{"d":500,"v":0.067},{"d":502,"v":0.062},{"d":503,"v":0.08},{"d":505,"v":0.07},{"d":506,"v":0.048},{"d":508,"v":0.065},{"d":510,"v":0.074},{"d":512,"v":0.06},{"d":514,"v":0.069},{"d":515,"v":0.054},{"d":517,"v":0.101},{"d":519,"v":0.071},{"d":521,"v":0.063},{"d":523,"v":0.077},{"d":525,"v":0.06},{"d":527,"v":0.072},{"d":529,"v":0.064},{"d":531,"v":0.075},{"d":533,"v":0.107},{"d":535,"v":0.068},{"d":537,"v":0.061},{"d":539,"v":0.077},{"d":541,"v":0.064},{"d":543,"v":0.093},{"d":545,"v":0.068},{"d":547,"v":0.057},{"d":549,"v":0.074},{"d":551,"v":0.065},{"d":553,"v":0.112},{"d":555,"v":0.07},{"d":557,"v":0.062},{"d":559,"v":0.071},{"d":561,"v":0.059},{"d":563,"v":0.116},{"d":565,"v":0.084},{"d":567,"v":0.077},{"d":569,"v":0.065},{"d":571,"v":0.049},{"d":573,"v":0.118},{"d":575,"v":0.082},{"d":577,"v":0.071},{"d":578,"v":0.063},{"d":580,"v":0.112},{"d":582,"v":0.07},{"d":583,"v":0.048},{"d":585,"v":0.072},{"d":587,"v":0.065},{"d":589,"v":0.078},{"d":591,"v":0.062},{"d":593,"v":0.07},{"d":595,"v":0.058},{"d":597,"v":0.075},{"d":599,"v":0.066},{"d":601,"v":0.082},{"d":602,"v":0.065},{"d":604,"v":0.116},{"d":606,"v":0.08},{"d":608,"v":0.047},{"d":610,"v":0.068},{"d":612,"v":0.075},{"d":614,"v":0.062},{"d":616,"v":0.072},{"d":617,"v":0.09},{"d":619,"v":0.066},{"d":621,"v":0.053},{"d":623,"v":0.071},{"d":624,"v":0.064},{"d":626,"v":0.101},{"d":628,"v":0.068},{"d":629,"v":0.077},{"d":631,"v":0.101},{"d":633,"v":0.07},{"d":635,"v":0.058},{"d":637,"v":0.076},{"d":639,"v":0.065},{"d":640,"v":0.083},{"d":642,"v":0.112},{"d":644,"v":0.071},{"d":646,"v":0.064},{"d":648,"v":0.079},{"d":650,"v":0.061},{"d":652,"v":0.073},{"d":654,"v":0.066},{"d":656,"v":0.053},{"d":658,"v":0.072},{"d":659,"v":0.101},{"d":660,"v":0.098},{"d":662,"v":0.062},{"d":664,"v":0.075},{"d":665,"v":0.058},{"d":667,"v":0.1},{"d":668,"v":0.074},{"d":670,"v":0.064},{"d":672,"v":0.071},{"d":674,"v":0.057},{"d":676,"v":0.069},{"d":678,"v":0.08},{"d":680,"v":0.066},{"d":682,"v":0.073},{"d":684,"v":0.06},{"d":686,"v":0.067},{"d":688,"v":0.075},{"d":689,"v":0.062},{"d":691,"v":0.049},{"d":693,"v":0.07},{"d":695,"v":0.0865},{"d":697,"v":0.066},{"d":699,"v":0.058},{"d":701,"v":0.071},{"d":703,"v":0.063},{"d":705,"v":0.076},{"d":707,"v":0.101},{"d":709,"v":0.079},{"d":711,"v":0.101},{"d":713,"v":0.069},{"d":715,"v":0.06},{"d":717,"v":0.074},{"d":719,"v":0.065},{"d":720,"v":0.077},{"d":722,"v":0.062},{"d":724,"v":0.081},{"d":725,"v":0.099},{"d":727,"v":0.072},{"d":729,"v":0.063},{"d":730,"v":0.068},{"d":732,"v":0.047},{"d":734,"v":0.092},{"d":736,"v":0.073},{"d":738,"v":0.097},{"d":740,"v":0.07},{"d":742,"v":0.098},{"d":743,"v":0.083},{"d":745,"v":0.073},{"d":747,"v":0.121},{"d":749,"v":0.088},{"d":751,"v":0.049},{"d":753,"v":0.103},{"d":755,"v":0.071},{"d":756,"v":0.066},{"d":758,"v":0.085},{"d":760,"v":0.062},{"d":762,"v":0.102},{"d":764,"v":0.075},{"d":765,"v":0.107},{"d":766,"v":0.049},{"d":768,"v":0.078},{"d":769,"v":0.066},{"d":771,"v":0.121},{"d":772,"v":0.105},{"d":774,"v":0.069},{"d":776,"v":0.063},{"d":778,"v":0.074},{"d":780,"v":0.06},{"d":782,"v":0.07},{"d":784,"v":0.066},{"d":786,"v":0.063},{"d":787,"v":0.077},{"d":789,"v":0.064},{"d":791,"v":0.069},{"d":793,"v":0.061},{"d":795,"v":0.07},{"d":797,"v":0.065},{"d":799,"v":0.068},{"d":801,"v":0.077},{"d":803,"v":0.064},{"d":805,"v":0.07},{"d":807,"v":0.062},{"d":809,"v":0.073},{"d":811,"v":0.08},{"d":813,"v":0.082},{"d":815,"v":0.064},{"d":817,"v":0.071},{"d":819,"v":0.066},{"d":820,"v":0.095},{"d":822,"v":0.073},{"d":824,"v":0.124},{"d":826,"v":0.095},{"d":828,"v":0.066},{"d":830,"v":0.054},{"d":832,"v":0.071},{"d":834,"v":0.063},{"d":835,"v":0.077},{"d":837,"v":0.096},{"d":839,"v":0.101},{"d":840,"v":0.102},{"d":842,"v":0.068},{"d":844,"v":0.061},{"d":846,"v":0.073},{"d":848,"v":0.066},{"d":850,"v":0.085},{"d":852,"v":0.064},{"d":854,"v":0.071},{"d":856,"v":0.059},{"d":858,"v":0.074},{"d":860,"v":0.093},{"d":861,"v":0.093},{"d":863,"v":0.068},{"d":865,"v":0.062},{"d":867,"v":0.074},{"d":869,"v":0.06},{"d":871,"v":0.07},{"d":873,"v":0.049},{"d":875,"v":0.083},{"d":877,"v":0.066},{"d":878,"v":0.072},{"d":880,"v":0.075},{"d":882,"v":0.062},{"d":884,"v":0.07},{"d":885,"v":0.064},{"d":887,"v":0.09},{"d":889,"v":0.078},{"d":890,"v":0.124},{"d":892,"v":0.072},{"d":894,"v":0.061},{"d":896,"v":0.074},{"d":898,"v":0.063},{"d":900,"v":0.068},{"d":902,"v":0.057},{"d":904,"v":0.07},{"d":906,"v":0.09},{"d":907,"v":0.09},{"d":909,"v":0.068},{"d":911,"v":0.061},{"d":913,"v":0.072},{"d":915,"v":0.064},{"d":917,"v":0.075},{"d":918,"v":0.094},{"d":920,"v":0.07},{"d":922,"v":0.063},{"d":924,"v":0.1086},{"d":925,"v":0.047},{"d":926,"v":0.098},{"d":928,"v":0.075},{"d":929,"v":0.066},{"d":931,"v":0.109},{"d":933,"v":0.088},{"d":935,"v":0.1307},{"d":936,"v":0.131},{"d":938,"v":0.09},{"d":940,"v":0.072},{"d":942,"v":0.1436},{"d":944,"v":0.12},{"d":946,"v":0.093},{"d":947,"v":0.07},{"d":949,"v":0.047},{"d":950,"v":0.083},{"d":952,"v":0.068},{"d":954,"v":0.074},{"d":956,"v":0.064},{"d":957,"v":0.072},{"d":959,"v":0.085},{"d":961,"v":0.049},{"d":962,"v":0.065},{"d":964,"v":0.098},{"d":965,"v":0.098},{"d":967,"v":0.067},{"d":969,"v":0.074},{"d":971,"v":0.063},{"d":973,"v":0.12},{"d":975,"v":0.11},{"d":977,"v":0.095},{"d":979,"v":0.067},{"d":981,"v":0.071},{"d":983,"v":0.098},{"d":984,"v":0.079},{"d":986,"v":0.044},{"d":987,"v":0.066},{"d":989,"v":0.081},{"d":991,"v":0.07},{"d":992,"v":0.065},{"d":994,"v":0.103},{"d":995,"v":0.092},{"d":997,"v":0.092},{"d":998,"v":0.06},{"d":999,"v":0.07}]
},
"concat": [
  {
    "width": 1704, "height": 443,
    "title": {"text": "μ", "subtitle": "\u200b\u00a0\u00a0\u2009likelihood"},
    "data": {"name": "mu_kde"},
    "mark": {"type": "line", "color": "#0f718e", "strokeWidth": 4, "interpolate": "monotone"},
    "encoding": {
      "x": {"field": "v", "type": "quantitative", "scale": {"domain": [2.0158, 2.1869], "nice": false, "zero": false}, "axis": {"values": [2.02, 2.04, 2.06, 2.08, 2.10, 2.12, 2.14, 2.16, 2.18], "format": ".2f"}},
      "y": {"field": "d", "type": "quantitative", "scale": {"domain": [-0.735, 22.035], "nice": false, "zero": false}, "axis": {"labels": false, "ticks": false}}
    }
  },
  {
    "width": 1704, "height": 443,
    "title": {"text": "μ", "subtitle": "\u200b\u00a0\u00a0\u2009likelihood"},
    "data": {"name": "mu_trace"},
    "mark": {"type": "line", "color": "#0f718e", "opacity": 0.35, "strokeWidth": 4},
    "encoding": {
      "x": {"field": "d", "type": "quantitative", "scale": {"domain": [0, 999], "nice": false, "zero": false}, "axis": {"values": [0, 200, 400, 600, 800], "format": "d"}},
      "y": {"field": "v", "type": "quantitative", "scale": {"domain": [2.0158, 2.1869], "nice": false, "zero": false}, "axis": {"values": [2.05, 2.10, 2.15], "format": ".2f"}}
    }
  },
  {
    "width": 1704, "height": 443,
    "title": {"text": "σ", "subtitle": "\u200b\u00a0\u00a0\u2009likelihood"},
    "data": {"name": "sigma_kde"},
    "mark": {"type": "line", "color": "#0f718e", "strokeWidth": 4, "interpolate": "monotone"},
    "encoding": {
      "x": {"field": "v", "type": "quantitative", "scale": {"domain": [0.037, 0.1787], "nice": false, "zero": false}, "axis": {"values": [0.04, 0.06, 0.08, 0.10, 0.12, 0.14, 0.16], "format": ".2f"}},
      "y": {"field": "d", "type": "quantitative", "scale": {"domain": [-0.85, 28.85], "nice": false, "zero": false}, "axis": {"labels": false, "ticks": false}}
    }
  },
  {
    "width": 1704, "height": 443,
    "title": {"text": "σ", "subtitle": "\u200b\u00a0\u00a0\u2009likelihood"},
    "data": {"name": "sigma_trace"},
    "mark": {"type": "line", "color": "#0f718e", "opacity": 0.35, "strokeWidth": 4},
    "encoding": {
      "x": {"field": "d", "type": "quantitative", "scale": {"domain": [0, 999], "nice": false, "zero": false}, "axis": {"values": [0, 200, 400, 600, 800], "format": "d"}},
      "y": {"field": "v", "type": "quantitative", "scale": {"domain": [0.0369, 0.1788], "nice": false, "zero": false}, "axis": {"values": [0.05, 0.10, 0.15], "format": ".2f"}}
    }
  }
]
}
